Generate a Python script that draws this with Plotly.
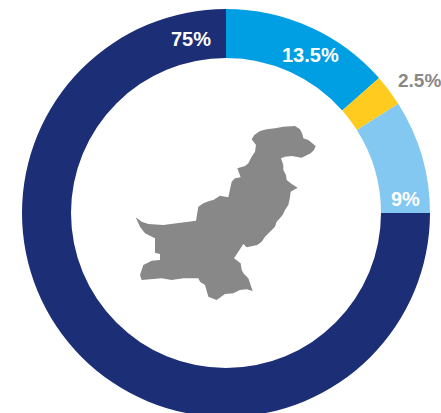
import plotly.graph_objects as go

shares = [13.5, 2.5, 9, 75]
share_labels = ["13.5%", "2.5%", "9%", "75%"]
share_colors = ["#009fe3", "#ffcb1f", "#82c8f0", "#1b2e76"]
label_x = [310, 419, 405, 191]
label_y = [55, 80, 199, 39]
label_sizes = [20, 19, 20, 20]
label_colors = ["white", "#888888", "white", "white"]

zoom_outline = [(395,88),(403,75),(420,63),(440,58),(465,55),(490,50),(525,48),(540,58),(547,72),(550,85),(565,90),(575,98),(587,108),(582,120),(572,130),(545,143),(530,140),(515,138),(495,140),(483,145),(490,165),(490,180),(498,195),(500,210),(515,222),(533,233),(512,245),(510,262),(505,285),(495,300),(488,315),(470,335),(465,350),(445,368),(435,380),(425,395),(412,405),(380,412),(370,402),(355,425),(342,445),(362,460),(365,480),(372,492),(385,505),(398,543),(380,538),(360,540),(340,550),(315,552),(290,570),(265,560),(255,525),(240,515),(235,505),(190,505),(155,510),(125,505),(95,507),(65,510),(60,495),(70,465),(95,452),(120,450),(120,432),(105,428),(105,385),(75,370),(60,350),(47,322),(65,335),(85,342),(130,345),(180,338),(228,332),(235,290),(250,280),(270,272),(280,270),(300,257),(325,262),(335,215),(345,205),(362,202),(352,175),(375,168),(385,160),(395,140),(405,125),(408,105),(395,88)]
map_x = [120 + p[0] / 3 for p in zoom_outline]
map_y = [110 + p[1] / 3 for p in zoom_outline]

W, H = 441, 430
cx, cy, r = 226, 213, 204

fig = go.Figure()
fig.add_trace(go.Scatter(x=map_x, y=map_y, mode="lines", fill="toself", fillcolor="#888888",
                         line=dict(color="#888888", width=0), hoverinfo="skip", showlegend=False))
fig.add_trace(go.Pie(values=shares, marker=dict(colors=share_colors, line=dict(width=0)),
                     hole=155 / 204, sort=False, direction="clockwise", rotation=0,
                     textinfo="none", showlegend=False,
                     domain=dict(x=[(cx - r) / W, (cx + r) / W],
                                 y=[(H - cy - r) / H, (H - cy + r) / H])))
for t, x, y, c, s in zip(share_labels, label_x, label_y, label_colors, label_sizes):
    fig.add_annotation(x=x, y=y, xref="x", yref="y", text=f"<b>{t}</b>", showarrow=False,
                       font=dict(family="Liberation Sans", size=s, color=c))
fig.update_layout(width=W, height=H, margin=dict(l=0, r=0, t=0, b=0), paper_bgcolor="white",
                  plot_bgcolor="white",
                  xaxis=dict(range=[0, W], visible=False, fixedrange=True),
                  yaxis=dict(range=[H, 0], visible=False, fixedrange=True))
fig.write_html("out.html", config={"displayModeBar": False},
               post_script="document.body.style.margin='0';document.documentElement.style.overflow='hidden';")
